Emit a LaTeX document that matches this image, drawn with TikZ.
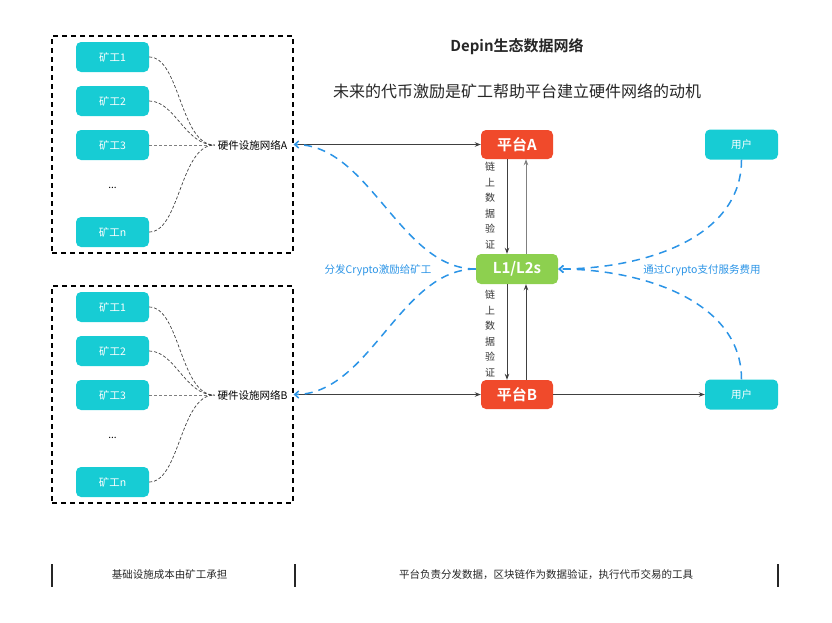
\documentclass[tikz,border=0pt]{standalone}
\usepackage{fontspec}
\setmainfont{Noto Sans CJK SC}[BoldFont={Noto Sans CJK SC Bold}]
\usetikzlibrary{arrows.meta}

\definecolor{kuang}{HTML}{17CCD4}
\definecolor{pingtai}{HTML}{F04A2B}
\definecolor{lian}{HTML}{8DD04F}
\definecolor{lan}{HTML}{2B94E6}
\definecolor{hei}{HTML}{404040}

\begin{document}
\begin{tikzpicture}[x=1pt, y=-1pt,
    miner/.style={fill=kuang, rounded corners=5pt, minimum width=73pt, minimum height=30pt,
        inner sep=0pt, text=white, font=\fontsize{10.5}{12}\selectfont},
    user/.style={miner},
    plat/.style={fill=pingtai, rounded corners=5pt, minimum width=72pt, minimum height=29pt,
        inner sep=0pt, text=white, font=\fontsize{15}{18}\selectfont\bfseries},
    chain/.style={plat, fill=lian, minimum width=82pt, minimum height=30pt},
    netbox/.style={draw=black, line width=1.2pt, dash pattern=on 5pt off 4pt,
        minimum width=241pt, minimum height=217pt, inner sep=0pt},
    netlabel/.style={text=black, inner sep=3pt, font=\fontsize{10.5}{12}\selectfont},
    link/.style={draw=hei, line width=0.7pt, dash pattern=on 3pt off 2pt},
    conn/.style={draw=hei, line width=0.9pt, -{Stealth[length=6pt,width=4.5pt]}},
    flow/.style={draw=lan, line width=1.5pt, dash pattern=on 8pt off 6pt,
        -{Straight Barb[length=4pt,width=7pt]}},
    note/.style={text=lan, font=\fontsize{10.5}{12}\selectfont},
    vtext/.style={text=black!80, align=center, font=\fontsize{10}{15.5}\selectfont},
    bar/.style={black!85, line width=2pt}]
            \useasboundingbox (0,0) rectangle (832,622);

            % titles
            \node[font=\fontsize{15}{18}\selectfont\bfseries, text=black!85] (title) at (517,47) {Depin生态数据网络};
            \node[font=\fontsize{16}{19}\selectfont, text=black!85] (sub) at (517,91) {未来的代币激励是矿工帮助平台建立硬件网络的动机};

            % hardware network A
            \node[netbox] (boxA) at (172.5,144.5) {};
            \node[miner] (a1) at (112.5,57) {矿工1};
            \node[miner] (a2) at (112.5,101) {矿工2};
            \node[miner] (a3) at (112.5,145) {矿工3};
            \node[font=\fontsize{10}{12}\selectfont] (adots) at (112.5,188) {...};
            \node[miner] (an) at (112.5,232) {矿工n};
            \node[netlabel] (netA) at (252.5,145) {硬件设施网络A};
            \draw[link] (a1.east) .. controls (180,57) and (180,145) .. (netA.west);
            \draw[link] (a2.east) .. controls (175,101) and (185,145) .. (netA.west);
            \draw[link, draw=gray] (a3.east) -- (netA.west);
            \draw[link] (an.east) .. controls (180,232) and (180,145) .. (netA.west);

            % hardware network B
            \node[netbox] (boxB) at (172.5,394.5) {};
            \node[miner] (b1) at (112.5,307) {矿工1};
            \node[miner] (b2) at (112.5,351) {矿工2};
            \node[miner] (b3) at (112.5,395) {矿工3};
            \node[font=\fontsize{10}{12}\selectfont] (bdots) at (112.5,438) {...};
            \node[miner] (bn) at (112.5,482) {矿工n};
            \node[netlabel] (netB) at (252.5,395) {硬件设施网络B};
            \draw[link] (b1.east) .. controls (180,307) and (180,395) .. (netB.west);
            \draw[link] (b2.east) .. controls (175,351) and (185,395) .. (netB.west);
            \draw[link, draw=gray] (b3.east) -- (netB.west);
            \draw[link] (bn.east) .. controls (180,482) and (180,395) .. (netB.west);

            % platforms and chain
            \node[plat] (pA) at (517,144.5) {平台A};
            \node[chain] (l1) at (517,269) {L1/L2s};
            \node[plat] (pB) at (517,394.5) {平台B};
            \node[user] (uA) at (741.5,144.5) {用户};
            \node[user] (uB) at (741.5,394.5) {用户};

            \draw[conn] ([xshift=-10pt]pA.south) -- ([xshift=-10pt]l1.north);
            \draw[conn, draw=gray] ([xshift=9pt]l1.north) -- ([xshift=9pt]pA.south);
            \draw[conn] ([xshift=-10pt]l1.south) -- ([xshift=-10pt]pB.north);
            \draw[conn] ([xshift=9pt]pB.north) -- ([xshift=9pt]l1.south);
            \node[vtext] (vA) at (490,205.5) {链\\上\\数\\据\\验\\证};
            \node[vtext] (vB) at (490,333.5) {链\\上\\数\\据\\验\\证};

            \draw[conn] (boxA.east) -- (pA.west);
            \draw[conn] (boxB.east) -- (pB.west);
            \draw[conn] (pB.east) -- (uB.west);

            % crypto flows
            \draw[flow] (l1.west) .. controls (400,269) and (370,144.5) .. (boxA.east);
            \draw[flow] (l1.west) .. controls (400,269) and (370,394.5) .. (boxB.east);
            \draw[flow] (uA.south) .. controls (741.5,240) and (640,269) .. (l1.east);
            \draw[flow] (uB.north) .. controls (741.5,300) and (640,269) .. (l1.east);
            \node[note] (payout) at (378,270) {分发Crypto激励给矿工};
            \node[note] (payin) at (702,270) {通过Crypto支付服务费用};

            % bottom scale
            \draw[bar] (51.5,564) -- (51.5,587);
            \draw[bar] (294.5,564) -- (294.5,587);
            \draw[bar] (778,564) -- (778,587);
            \node[font=\fontsize{10.5}{12}\selectfont, text=black!85] (costs) at (169.5,575) {基础设施成本由矿工承担};
            \node[font=\fontsize{10.5}{12}\selectfont, text=black!85] (roles) at (546,575) {平台负责分发数据，区块链作为数据验证，执行代币交易的工具};
        \end{tikzpicture}
\end{document}
